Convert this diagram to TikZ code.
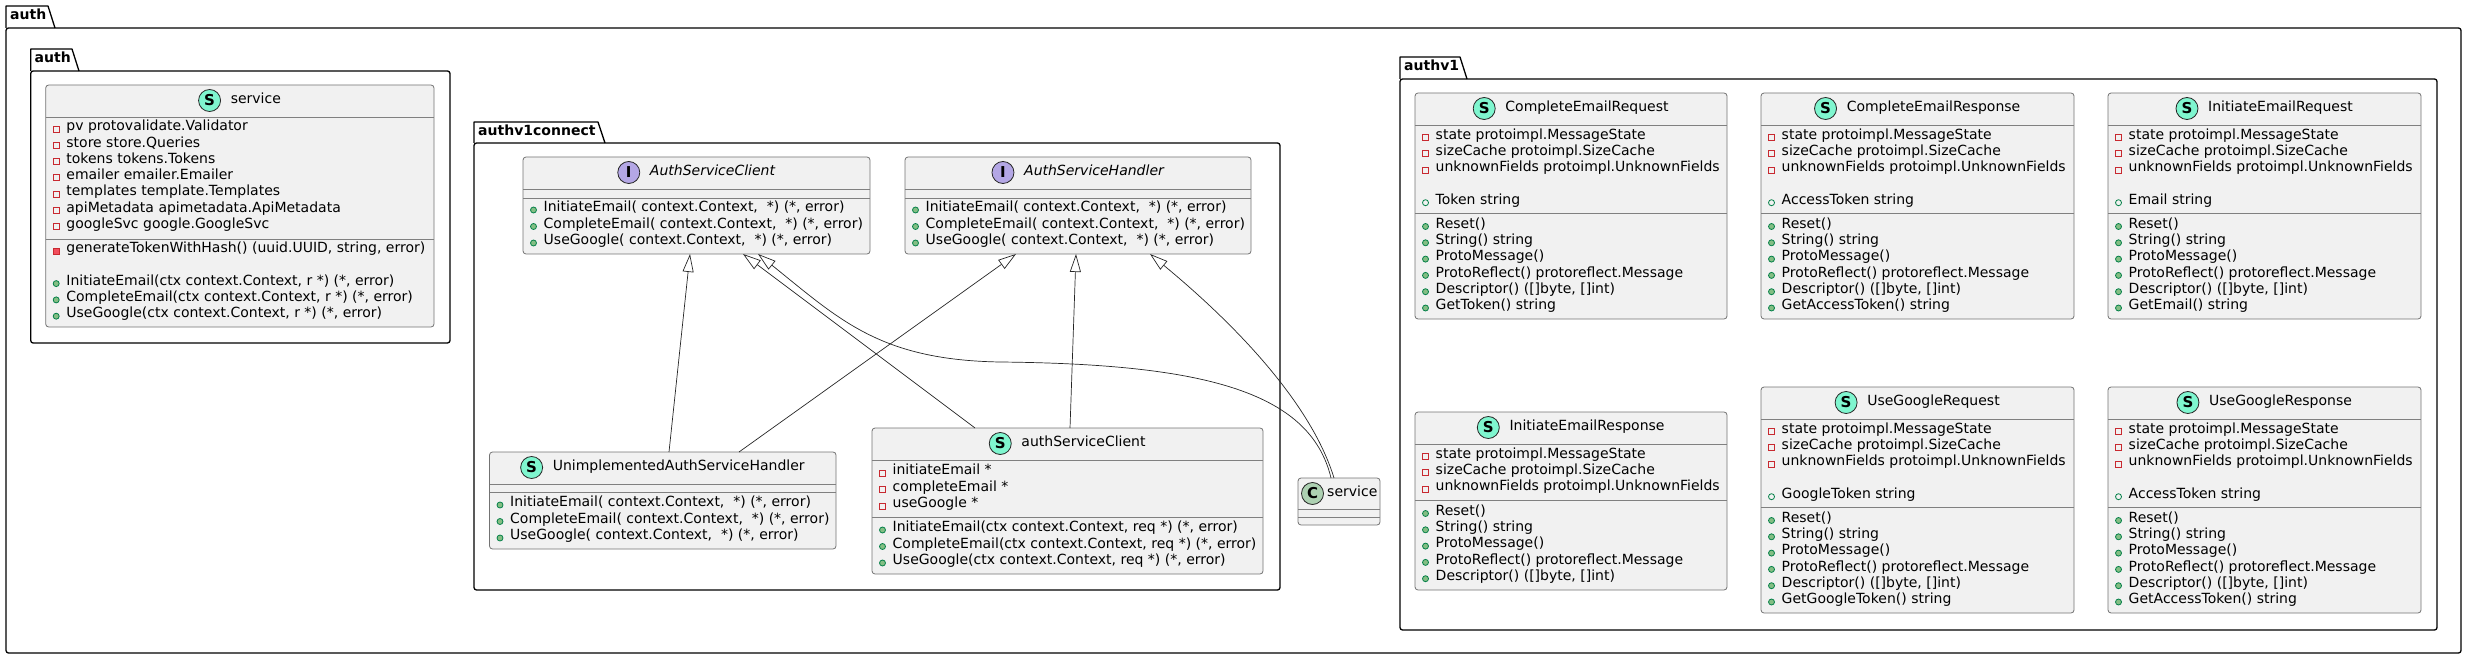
\documentclass[tikz,border=0pt]{standalone}
\usepackage{fontspec}
\setmainfont{DejaVu Sans}
\usetikzlibrary{arrows.meta}
\definecolor{boxfill}{HTML}{F1F1F1}
\definecolor{spotS}{HTML}{7FF6CF}
\definecolor{spotI}{HTML}{B4A7E5}
\definecolor{spotC}{HTML}{ADD1B2}
\definecolor{privred}{HTML}{C82930}
\definecolor{privfill}{HTML}{F24D5C}
\definecolor{pubgreen}{HTML}{038048}
\definecolor{pubfill}{HTML}{84BE84}
\newcounter{mc}
\tikzset{
  cbox/.style={draw=black!55, fill=boxfill, rounded corners=3pt, line width=0.8pt, inner sep=0pt, outer sep=0pt},
  sepline/.style={draw=black!50, line width=0.8pt},
  mem/.style={anchor=mid west, inner sep=0pt},
  hdrtxt/.style={anchor=mid, inner sep=0pt},
  spot/.style={circle, draw=black!85, line width=0.8pt, minimum size=22pt, inner sep=0pt, font=\bfseries\fontsize{15pt}{15pt}\selectfont},
  pkg/.style={draw=black, line width=1.3pt, line join=round},
  pkgtitle/.style={anchor=mid west, inner sep=0pt, font=\bfseries\fontsize{14pt}{16pt}\selectfont},
  ext/.style={draw=black!85, line width=0.7pt, -{Triangle[open, length=18pt, width=11pt]}}
}
% member: type (0 priv field,1 priv method,2 pub field,3 pub method), box left, y, text
\newcommand\mem[4]{%
  \ifcase#1\relax
    \draw[privred, line width=0.8pt] ({#2+7.5},{#3-2}) rectangle ({#2+13.5},{#3+4});
  \or
    \draw[privred, fill=privfill, line width=0.8pt] ({#2+7.5},{#3-2}) rectangle ({#2+13.5},{#3+4});
  \or
    \draw[pubgreen, line width=0.8pt] ({#2+10.5},{#3+1}) circle (3pt);
  \or
    \draw[pubgreen, fill=pubfill, line width=0.8pt] ({#2+10.5},{#3+1}) circle (3pt);
  \fi
  \stepcounter{mc}%
  \node[mem] (m\arabic{mc}) at ({#2+20.5},{#3}) {#4};}
% box: id, L, T, R, B
\newcommand\cbx[5]{%
  \node[cbox, minimum width={#4-(#2)}, minimum height={#5-(#3)}, anchor=north west] (#1) at ({#2},{#3}) {};}
% header: id, letter, colour, cx, cy, text
\newcommand\hdr[6]{%
  \node[hdrtxt] (#1t) at ({#4+16},{#5}) {#6};
  \node[spot, fill=#3] (#1s) at ([xshift=-21pt]#1t.mid west) {#2};}
\newcommand\sepl[3]{\draw[sepline] ({#1},{#3}) -- ({#2},{#3});}
% proto message class with public field: id, L, T, R, name, field, getter
\newcommand\protocls[7]{%
  \cbx{#1}{#2}{#3}{#4}{#3+226}
  \hdr{#1}{S}{spotS}{(#2+#4)/2}{#3+15.5}{#5}
  \sepl{#2}{#4}{#3+32}
  \sepl{#2}{#4}{#3+120}
  \mem{0}{#2}{#3+43.5}{state protoimpl.MessageState}
  \mem{0}{#2}{#3+59.8}{sizeCache protoimpl.SizeCache}
  \mem{0}{#2}{#3+76.1}{unknownFields protoimpl.UnknownFields}
  \mem{2}{#2}{#3+108.7}{#6}
  \mem{3}{#2}{#3+132.5}{Reset()}
  \mem{3}{#2}{#3+148.8}{String() string}
  \mem{3}{#2}{#3+165.1}{ProtoMessage()}
  \mem{3}{#2}{#3+181.4}{ProtoReflect() protoreflect.Message}
  \mem{3}{#2}{#3+197.7}{Descriptor() ([]byte, []int)}
  \mem{3}{#2}{#3+214}{#7}}
% interface-like method block
\newcommand\ifmethods[2]{%
  \mem{3}{#1}{#2}{InitiateEmail( context.Context, \ *) (*, error)}
  \mem{3}{#1}{#2+16.5}{CompleteEmail( context.Context, \ *) (*, error)}
  \mem{3}{#1}{#2+33}{UseGoogle( context.Context, \ *) (*, error)}}
\begin{document}
\begin{tikzpicture}[x=1pt,y=-1pt, every node/.append style={font=\fontsize{14pt}{16.3pt}\selectfont}]
\useasboundingbox (0,0) rectangle (2467,660);

% ---------------- packages ----------------
\draw[pkg] (6,28) -- (6,6) -- (48,6) -- (55,28);
\draw[pkg, rounded corners=2.5pt] (6,28) rectangle (2461,653);
\node[pkgtitle] (p1) at (10,17) {auth};

\draw[pkg] (30.7,71) -- (30.7,49) -- (72,49) -- (79,71);
\draw[pkg, rounded corners=2.5pt] (30.7,71) rectangle (450,343);
\node[pkgtitle] (p2) at (34.5,60) {auth};

\draw[pkg] (474,143) -- (474,122) -- (598,122) -- (605,143);
\draw[pkg, rounded corners=2.5pt] (474,143) rectangle (1280,590);
\node[pkgtitle] (p3) at (478,132.5) {authv1connect};

\draw[pkg] (1400,79) -- (1400,57) -- (1460,57) -- (1467,79);
\draw[pkg, rounded corners=2.5pt] (1400,79) rectangle (2437,630);
\node[pkgtitle] (p4) at (1404,68) {authv1};

% ---------------- auth.service ----------------
\cbx{svc}{45.7}{85}{434}{327}
\hdr{svc}{S}{spotS}{239.85}{100.5}{service}
\sepl{45.7}{434}{117}
\sepl{45.7}{434}{239}
\mem{0}{45.7}{128}{pv protovalidate.Validator}
\mem{0}{45.7}{144.3}{store store.Queries}
\mem{0}{45.7}{160.6}{tokens tokens.Tokens}
\mem{0}{45.7}{176.9}{emailer emailer.Emailer}
\mem{0}{45.7}{193.2}{templates template.Templates}
\mem{0}{45.7}{209.5}{apiMetadata apimetadata.ApiMetadata}
\mem{0}{45.7}{225.8}{googleSvc google.GoogleSvc}
\mem{1}{45.7}{250}{generateTokenWithHash() (uuid.UUID, string, error)}
\mem{3}{45.7}{282.6}{InitiateEmail(ctx context.Context, r *) (*, error)}
\mem{3}{45.7}{298.9}{CompleteEmail(ctx context.Context, r *) (*, error)}
\mem{3}{45.7}{315.2}{UseGoogle(ctx context.Context, r *) (*, error)}

% ---------------- authv1connect ----------------
\cbx{asc}{523}{157}{870}{254}
\hdr{asc}{I}{spotI}{696.5}{172.5}{\itshape AuthServiceClient}
\sepl{523}{870}{189}
\sepl{523}{870}{198}
\ifmethods{523}{209}

\cbx{ash}{905}{157}{1251}{254}
\hdr{ash}{I}{spotI}{1078}{172.5}{\itshape AuthServiceHandler}
\sepl{905}{1251}{189}
\sepl{905}{1251}{198}
\ifmethods{905}{209}

\cbx{uash}{489.5}{452}{836}{549}
\hdr{uash}{S}{spotS}{662.75}{467.5}{UnimplementedAuthServiceHandler}
\sepl{489.5}{836}{484}
\sepl{489.5}{836}{492}
\ifmethods{489.5}{504}

\cbx{asc2}{872}{428}{1263}{574}
\hdr{asc2}{S}{spotS}{1067.5}{443.5}{authServiceClient}
\sepl{872}{1263}{460}
\sepl{872}{1263}{517}
\mem{0}{872}{472}{initiateEmail *}
\mem{0}{872}{488.5}{completeEmail *}
\mem{0}{872}{505}{useGoogle *}
\mem{3}{872}{529}{InitiateEmail(ctx context.Context, req *) (*, error)}
\mem{3}{872}{545.5}{CompleteEmail(ctx context.Context, req *) (*, error)}
\mem{3}{872}{562}{UseGoogle(ctx context.Context, req *) (*, error)}

% ---------------- class service ----------------
\cbx{svcC}{1298}{478}{1380}{525}
\node[spot, fill=spotC] (svcCs) at (1312.5,493.5) {C};
\node[mem] (svcCt) at (1327,493.5) {service};
\sepl{1298}{1380}{509}
\sepl{1298}{1380}{517}

% ---------------- authv1 ----------------
\protocls{cer}{1415}{93}{1727}{CompleteEmailRequest}{Token string}{GetToken() string}
\protocls{cres}{1761}{93}{2074}{CompleteEmailResponse}{AccessToken string}{GetAccessToken() string}
\protocls{ier}{2108}{93}{2421}{InitiateEmailRequest}{Email string}{GetEmail() string}
\protocls{ugr}{1761}{387}{2074}{UseGoogleRequest}{GoogleToken string}{GetGoogleToken() string}
\protocls{ugres}{2108}{387}{2421}{UseGoogleResponse}{AccessToken string}{GetAccessToken() string}

\cbx{ieres}{1415}{412}{1727}{590}
\hdr{ieres}{S}{spotS}{1571}{427.5}{InitiateEmailResponse}
\sepl{1415}{1727}{444}
\sepl{1415}{1727}{500}
\mem{0}{1415}{455.5}{state protoimpl.MessageState}
\mem{0}{1415}{471.8}{sizeCache protoimpl.SizeCache}
\mem{0}{1415}{488.1}{unknownFields protoimpl.UnknownFields}
\mem{3}{1415}{512.5}{Reset()}
\mem{3}{1415}{528.8}{String() string}
\mem{3}{1415}{545.1}{ProtoMessage()}
\mem{3}{1415}{561.4}{ProtoReflect() protoreflect.Message}
\mem{3}{1415}{577.7}{Descriptor() ([]byte, []int)}

% ---------------- connectors ----------------
\draw[ext] ([xshift=179.5pt]uash.north west) -- ([xshift=167pt]asc.south west);
\draw[ext] ([xshift=249.5pt]uash.north west) -- ([xshift=111pt]ash.south west);
\draw[ext] ([xshift=103pt]asc2.north west) -- ([xshift=220pt]asc.south west);
\draw[ext] ([xshift=198pt]asc2.north west) -- ([xshift=171pt]ash.south west);
\draw[ext] ([xshift=33pt]svcC.north west) .. controls (1310,390) and (1200,364) .. (1000,362)
   .. controls (880,360) and (840,320) .. ([xshift=235pt]asc.south west);
\draw[ext] ([xshift=36pt]svcC.north west) .. controls (1310,400) and (1230,320) .. ([xshift=245pt]ash.south west);
\end{tikzpicture}
\end{document}
